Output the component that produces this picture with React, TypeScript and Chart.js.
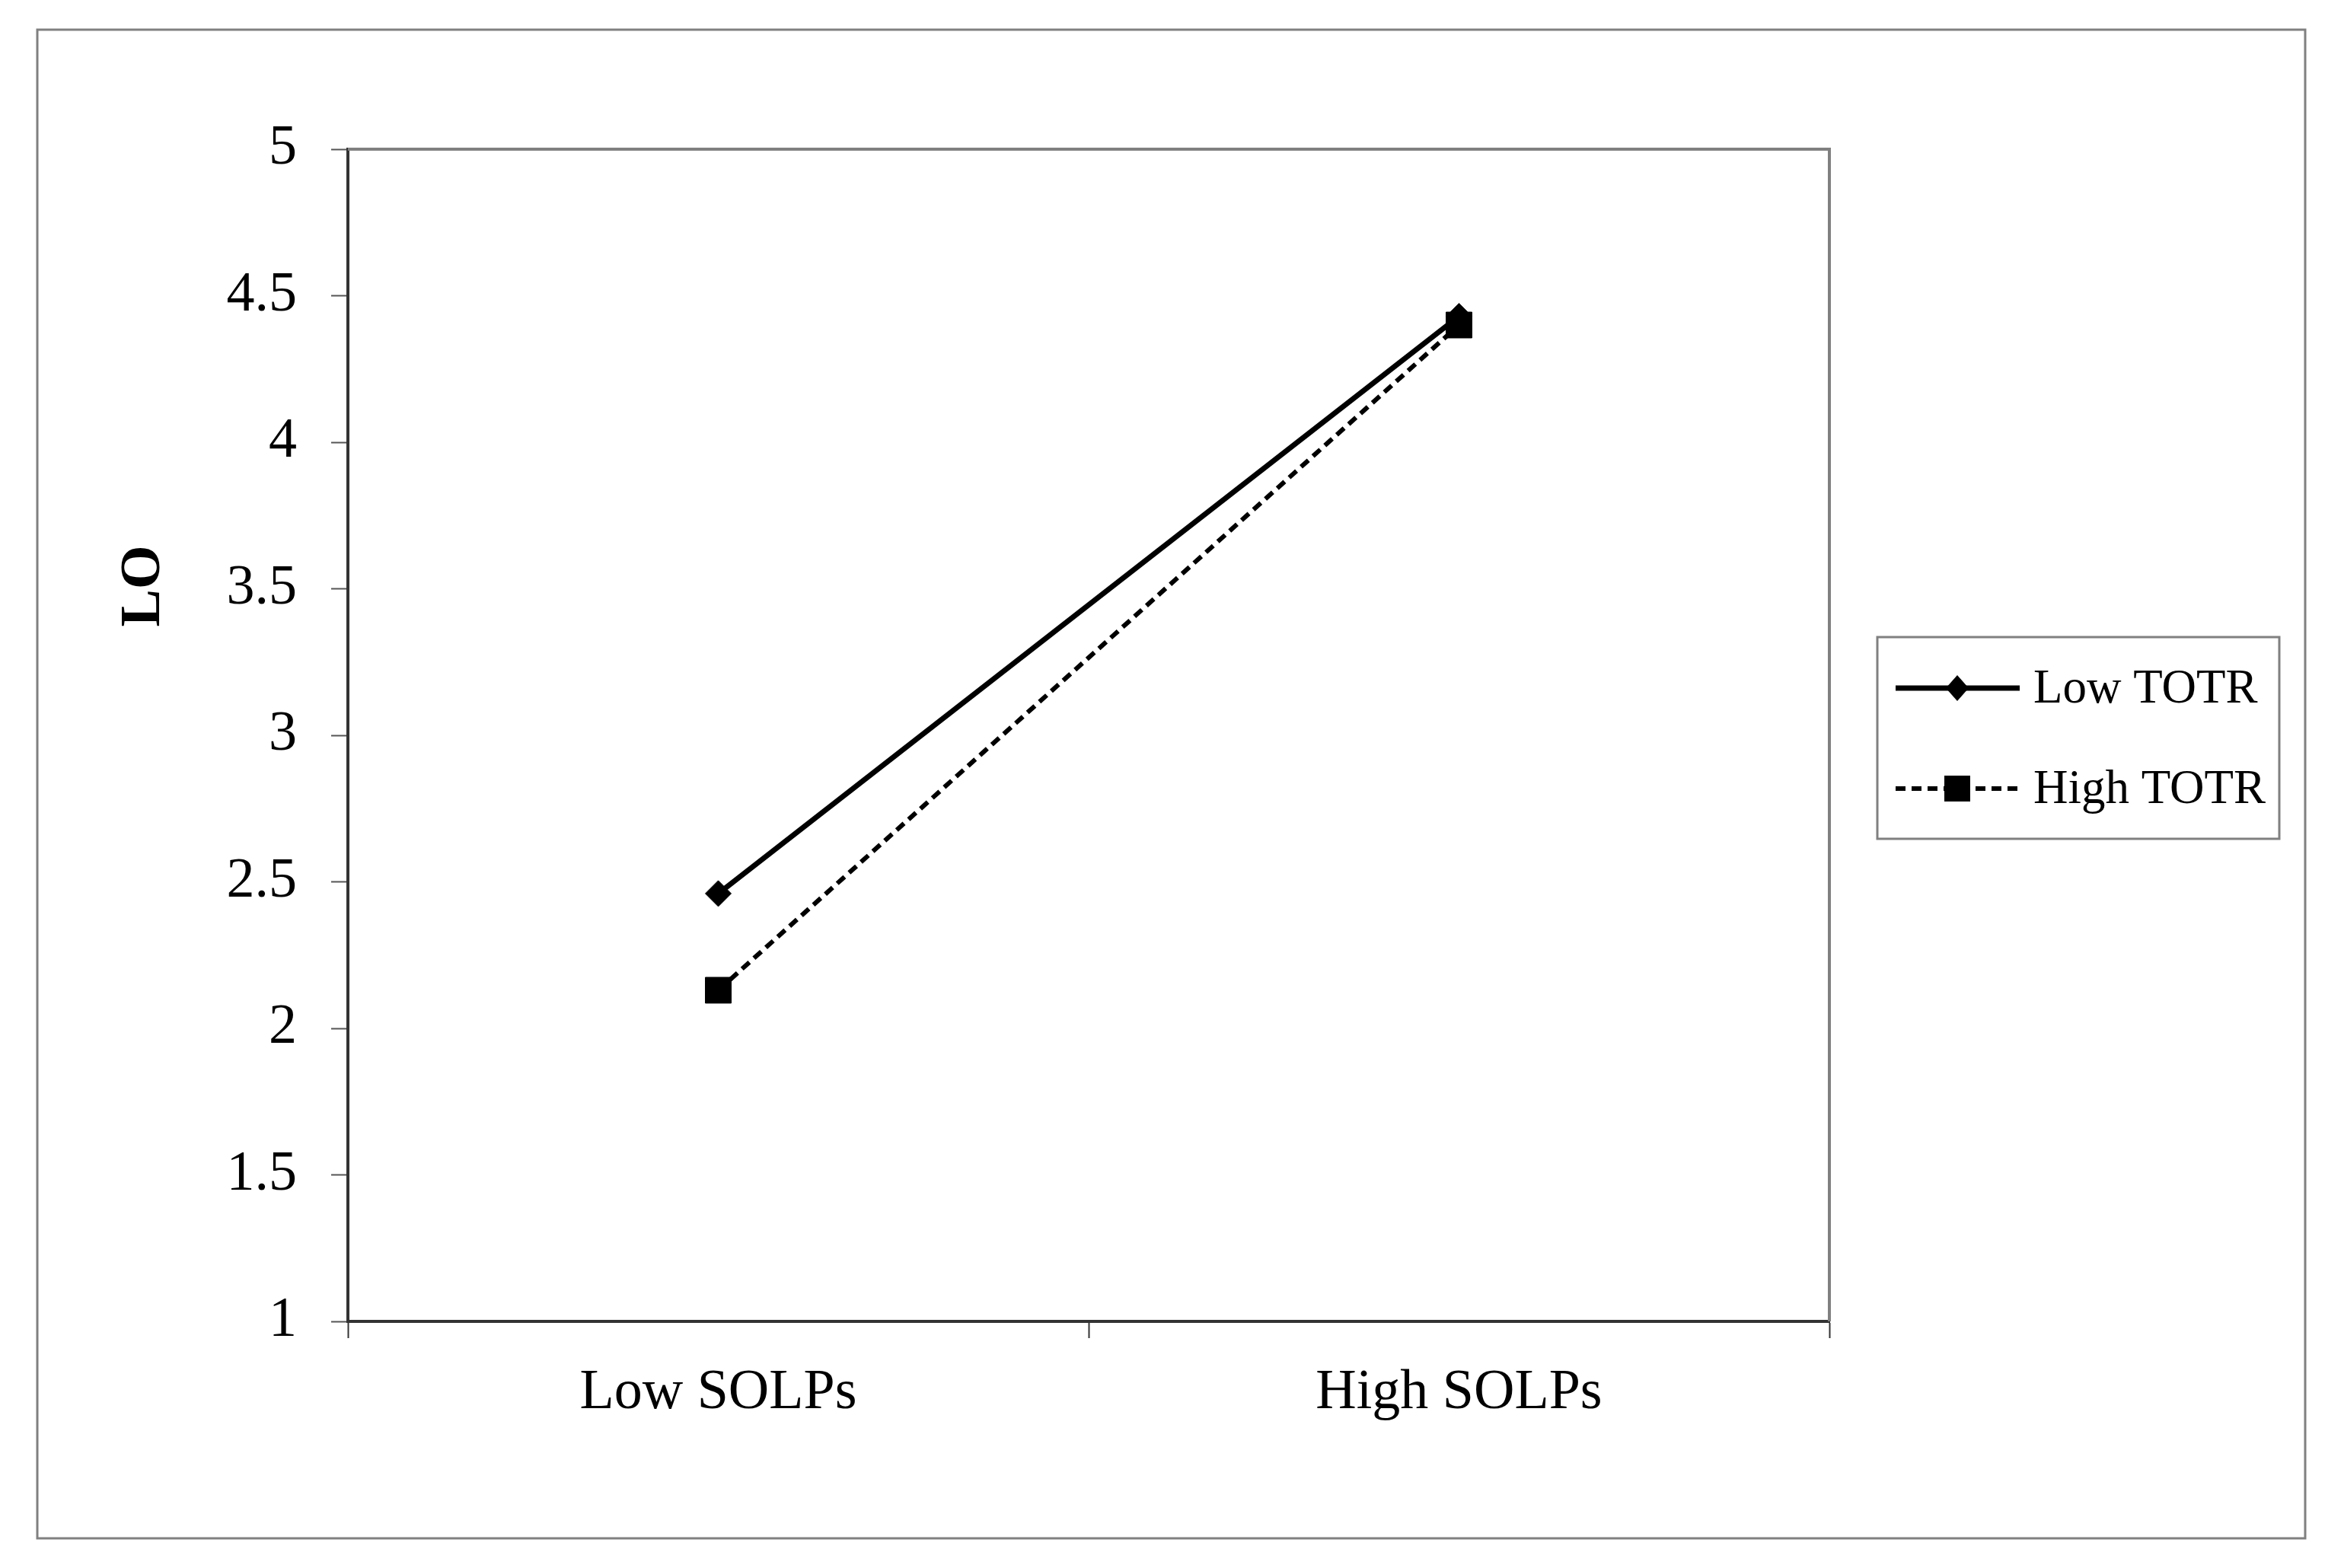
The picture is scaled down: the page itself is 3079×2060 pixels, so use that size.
import React, { useEffect, useRef } from "react";
import { Chart, registerables } from "chart.js";

Chart.register(...registerables);

const categories = ["Low SOLPs", "High SOLPs"];
const seriesLabels = ["Low TOTR", "High TOTR"];
const lowTOTR = [2.46, 4.43];
const highTOTR = [2.13, 4.4];
const yTicks = [1, 1.5, 2, 2.5, 3, 3.5, 4, 4.5, 5];
const yAxisTitle = "LO";

const W = 3079;
const H = 2060;
const FONT = "'Liberation Serif', 'Times New Roman', serif";

const decorPlugin = {
  id: "decor",
  beforeDatasetsDraw(chart: any) {
    const { ctx, chartArea } = chart;
    ctx.save();
    ctx.strokeStyle = "#808080";
    ctx.lineWidth = 4;
    ctx.beginPath();
    ctx.moveTo(chartArea.left, chartArea.top);
    ctx.lineTo(chartArea.right, chartArea.top);
    ctx.lineTo(chartArea.right, chartArea.bottom);
    ctx.stroke();
    ctx.restore();
  },
  afterDraw(chart: any) {
    const { ctx } = chart;
    ctx.save();
    // outer chart frame
    ctx.strokeStyle = "#808080";
    ctx.lineWidth = 3;
    ctx.strokeRect(49, 39, 3028 - 49, 2021 - 39);

    // y axis title
    ctx.save();
    ctx.translate(190, 770);
    ctx.rotate(-Math.PI / 2);
    ctx.fillStyle = "#000";
    ctx.font = `bold 74px ${FONT}`;
    ctx.textAlign = "center";
    ctx.textBaseline = "middle";
    ctx.fillText(yAxisTitle, 0, 0);
    ctx.restore();

    // legend box
    ctx.strokeStyle = "#808080";
    ctx.lineWidth = 3;
    ctx.strokeRect(2466, 837, 2994 - 2466, 1102 - 837);

    const rows = [904, 1036];
    chart.data.datasets.forEach((ds: any, i: number) => {
      const y = rows[i];
      ctx.save();
      ctx.strokeStyle = "#000";
      ctx.lineWidth = ds.borderWidth;
      ctx.setLineDash(ds.borderDash || []);
      ctx.beginPath();
      ctx.moveTo(2490, y);
      ctx.lineTo(2653, y);
      ctx.stroke();
      ctx.setLineDash([]);
      ctx.fillStyle = "#000";
      ctx.beginPath();
      if (ds.pointStyle === "rectRot") {
        const r = 17;
        ctx.moveTo(2571 - r + 2, y);
        ctx.lineTo(2571, y - r);
        ctx.lineTo(2571 + r - 2, y);
        ctx.lineTo(2571, y + r);
        ctx.closePath();
      } else {
        const s = 17;
        ctx.rect(2571 - s, y - s, 2 * s, 2 * s);
      }
      ctx.fill();
      ctx.font = `63px ${FONT}`;
      ctx.textAlign = "left";
      ctx.textBaseline = "middle";
      ctx.fillText(ds.label, 2671, y + 2);
      ctx.restore();
    });
    ctx.restore();
  },
};

export default function App() {
  const ref = useRef<HTMLCanvasElement | null>(null);
  useEffect(() => {
    if (!ref.current) return;
    const chart = new Chart(ref.current, {
      type: "line",
      data: {
        labels: categories,
        datasets: [
          {
            label: seriesLabels[0],
            data: lowTOTR,
            borderColor: "#000",
            backgroundColor: "#000",
            borderWidth: 7,
            pointStyle: "rectRot",
            pointRadius: 17,
            pointBorderWidth: 1,
            pointBackgroundColor: "#000",
            pointBorderColor: "#000",
          },
          {
            label: seriesLabels[1],
            data: highTOTR,
            borderColor: "#000",
            backgroundColor: "#000",
            borderWidth: 6,
            borderDash: [13, 8],
            pointStyle: "rect",
            pointRadius: 24,
            pointBorderWidth: 1,
            pointBackgroundColor: "#000",
            pointBorderColor: "#000",
          },
        ],
      },
      options: {
        responsive: false,
        animation: false,
        devicePixelRatio: 1,
        layout: { padding: { top: 196, right: 3079 - 2403, left: 0, bottom: 0 } },
        plugins: {
          legend: { display: false },
          tooltip: { enabled: false },
          title: { display: false },
        },
        scales: {
          x: {
            type: "category",
            offset: true,
            grid: {
              offset: true,
              drawOnChartArea: false,
              drawTicks: true,
              tickLength: 22,
              tickWidth: 2,
              tickColor: "#333",
              color: "#333",
            },
            border: { display: true, color: "#333", width: 4 },
            ticks: {
              color: "#000",
              font: { family: FONT, size: 74 },
              padding: 28,
              maxRotation: 0,
            },
            afterFit(scale: any) {
              scale.height = 2060 - 1736;
            },
          },
          y: {
            min: 1,
            max: 5,
            grid: {
              drawOnChartArea: false,
              drawTicks: true,
              tickLength: 22,
              tickWidth: 2,
              tickColor: "#555",
              color: "#555",
            },
            border: { display: true, color: "#333", width: 4 },
            afterBuildTicks(scale: any) {
              scale.ticks = yTicks.map((v) => ({ value: v }));
            },
            ticks: {
              color: "#000",
              font: { family: FONT, size: 74 },
              padding: 45,
              callback: (v: any) => String(v),
            },
            afterFit(scale: any) {
              scale.width = 457;
            },
          },
        },
      },
      plugins: [decorPlugin],
    });
    return () => chart.destroy();
  }, []);
  return (
    <div style={{ position: "absolute", left: 0, top: 0, width: W, height: H, background: "#fff" }}>
      <canvas ref={ref} width={W} height={H} style={{ display: "block", width: W, height: H }} />
    </div>
  );
}
